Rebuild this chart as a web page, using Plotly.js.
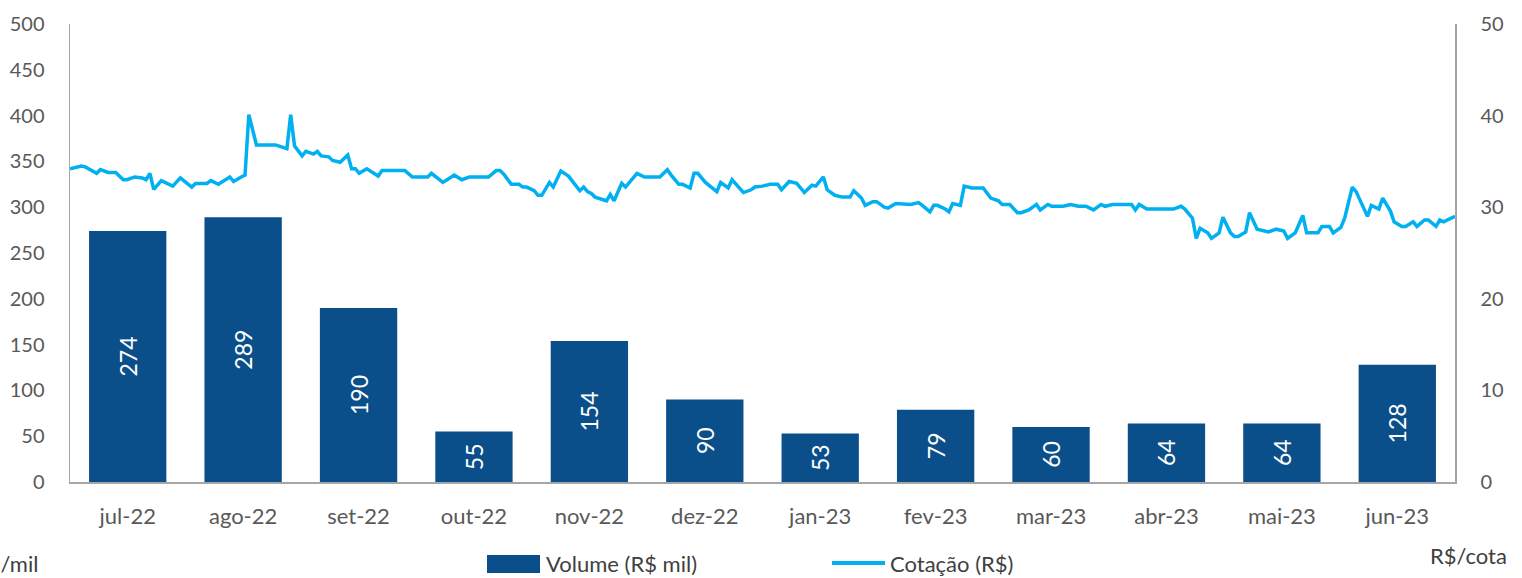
<!DOCTYPE html>
<html><head><meta charset="utf-8">
<script src="https://cdn.plot.ly/plotly-3.0.1.min.js"></script>
<style>html,body{margin:0;padding:0;background:#fff;} #chart{width:1522px;height:578px;}</style>
</head><body><div id="chart"></div>
<script>
// Monthly traded volume (R$ mil)
const months = ["jul-22","ago-22","set-22","out-22","nov-22","dez-22","jan-23","fev-23","mar-23","abr-23","mai-23","jun-23"];
const volume = [274, 289, 190, 55, 154, 90, 53, 79, 60, 64, 64, 128];

// Daily quote (R$/cota): day = days since 1 Jul 2022
const priceDay = [0,3,4,6,7,8,10,12,14,15,17,19,20,21,22,24,27,29,32,33,36,37,39,42,43,45,46,47,49,54,57,58,59,61,62,64,65,66,68,69,71,73,74,75,76,78,81,82,88,90,94,95,98,101,103,105,110,112,113,114,116,118,119,120,122,123,124,126,127,129,131,134,135,136,137,138,141,142,143,145,146,149,151,155,157,158,160,161,163,164,165,167,170,171,173,174,177,179,180,182,184,186,187,189,191,193,195,196,198,199,201,203,205,206,208,209,211,212,214,215,217,221,223,224,226,227,228,230,231,232,234,235,237,240,242,244,245,247,249,250,252,254,255,257,258,261,263,265,267,269,271,272,274,276,279,280,281,283,290,292,293,295,296,297,299,300,302,303,305,306,307,309,310,312,315,317,319,320,322,324,325,328,329,331,332,334,335,337,338,341,342,344,345,347,348,350,351,353,354,356,357,359,360,361,364];
const price = [34.2,34.5,34.4,33.9,33.7,34.1,33.8,33.8,33.0,33.0,33.3,33.2,33.0,33.7,31.95,32.9,32.3,33.2,32.2,32.6,32.6,32.9,32.5,33.3,32.8,33.3,33.5,40.1,36.8,36.8,36.4,40.1,36.7,35.6,36.1,35.8,36.1,35.6,35.5,35.1,34.9,35.7,34.2,34.2,33.7,34.2,33.4,34.0,34.0,33.3,33.3,33.7,32.7,33.5,33.0,33.3,33.3,34.0,34.0,33.6,32.5,32.5,32.2,32.2,31.8,31.3,31.3,32.7,32.2,33.95,33.4,31.8,32.2,31.7,31.5,31.1,30.7,31.4,30.7,32.6,32.2,33.7,33.3,33.3,34.1,33.5,32.5,32.5,32.1,33.7,33.7,32.7,31.7,32.7,32.1,33.0,31.6,31.9,32.2,32.3,32.5,32.5,31.9,32.8,32.6,31.6,32.4,32.3,33.3,31.9,31.3,31.1,31.1,31.8,31.0,30.2,30.6,30.6,30.0,29.9,30.4,30.3,30.5,30.2,29.5,30.2,30.2,29.8,29.5,30.4,30.2,32.3,32.1,32.1,31.0,30.7,30.3,30.3,29.4,29.4,29.7,30.3,29.7,30.3,30.1,30.1,30.3,30.1,30.1,29.7,30.3,30.1,30.3,30.3,30.3,29.7,30.3,29.8,29.8,30.1,29.8,28.8,26.6,27.7,27.2,26.6,27.2,28.9,27.2,26.8,26.8,27.3,29.4,27.6,27.3,27.6,27.4,26.6,27.2,29.1,27.2,27.2,27.9,27.9,27.2,27.8,28.8,32.2,31.7,29.0,30.2,29.8,31.0,29.6,28.4,27.9,27.9,28.4,27.9,28.6,28.6,27.9,28.6,28.4,29.0];

const barColor = "#0B4F8A";
const lineColor = "#00B0F0";
const yTickFont = {family: "Lato, sans-serif", size: 20, color: "#595959"};
const xTickFont = {family: "Lato, sans-serif", size: 22, color: "#595959"};
const textFont = {family: "Lato, sans-serif", size: 22, color: "#404040"};
const axisCol = "#A6A6A6";

const traces = [
  {
    type: "bar", x: months, y: volume, name: "Volume (R$ mil)",
    text: volume.map(String), textposition: "inside", insidetextanchor: "middle",
    textangle: -90, textfont: {family: "Lato, sans-serif", size: 23, color: "#FFFFFF"},
    marker: {color: barColor}, xaxis: "x", yaxis: "y", showlegend: false, hoverinfo: "skip"
  },
  {
    type: "scatter", mode: "lines", x: priceDay, y: price, name: "Cotação (R$)",
    line: {color: lineColor, width: 3.5}, xaxis: "x2", yaxis: "y2", showlegend: false, cliponaxis: false
  }
];

const layout = {
  width: 1522, height: 578,
  margin: {l: 70, r: 67, t: 24, b: 96},
  paper_bgcolor: "#FFFFFF", plot_bgcolor: "#FFFFFF",
  bargap: 0.33,
  font: {family: "Lato, sans-serif"},
  xaxis: {type: "category", showline: true, linecolor: axisCol, linewidth: 1.5, ticks: "",
          showgrid: false, tickfont: xTickFont, ticklabelstandoff: 14, fixedrange: true},
  xaxis2: {overlaying: "x", range: [0, 364], visible: false, fixedrange: true},
  yaxis: {range: [0, 500], dtick: 50, showline: true, linecolor: axisCol, linewidth: 1.5,
          ticks: "", showgrid: false, zeroline: false, tickfont: yTickFont, ticklabelstandoff: 20, fixedrange: true},
  yaxis2: {overlaying: "y", side: "right", range: [0, 50], dtick: 10, showline: true, linecolor: axisCol,
           linewidth: 1.5, ticks: "", showgrid: false, zeroline: false, tickfont: yTickFont,
           ticklabelstandoff: 20, fixedrange: true},
  shapes: [
    {type: "rect", xref: "paper", yref: "paper", x0: (487-70)/1385, x1: (540-70)/1385,
     y0: (482-573)/458, y1: (482-555)/458, fillcolor: barColor, line: {width: 0}},
    {type: "line", xref: "paper", yref: "paper", x0: (832-70)/1385, x1: (885-70)/1385,
     y0: (482-563)/458, y1: (482-563)/458, line: {color: lineColor, width: 4}}
  ],
  annotations: [
    {text: "Volume (R$ mil)", xref: "paper", yref: "paper", x: (544-70)/1385, y: (482-563)/458,
     xanchor: "left", yanchor: "middle", showarrow: false, font: textFont},
    {text: "Cotação (R$)", xref: "paper", yref: "paper", x: (888-70)/1385, y: (482-563)/458,
     xanchor: "left", yanchor: "middle", showarrow: false, font: textFont},
    {text: "R$/mil", xref: "paper", yref: "paper", x: (40-70)/1385, y: (482-563)/458,
     xanchor: "right", yanchor: "middle", showarrow: false, font: textFont},
    {text: "R$/cota", xref: "paper", yref: "paper", x: (1428-70)/1385, y: (482-555)/458,
     xanchor: "left", yanchor: "middle", showarrow: false, font: textFont}
  ]
};

Plotly.newPlot("chart", traces, layout, {displayModeBar: false, staticPlot: true});
</script>
</body></html>
